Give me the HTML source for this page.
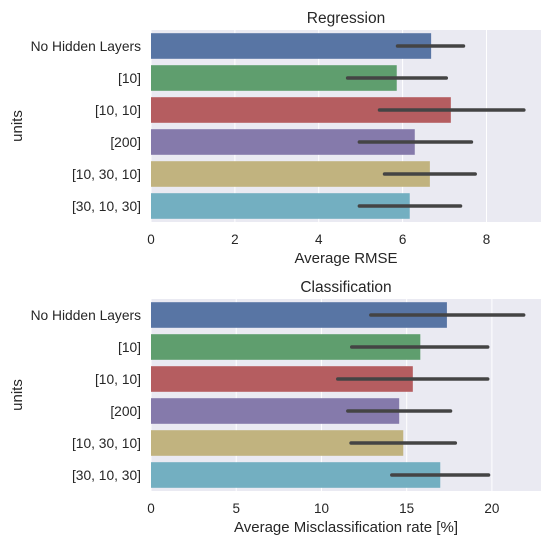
<!DOCTYPE html>
<html><head><meta charset="utf-8"><style>
body{margin:0;background:#fff;font-family:"Liberation Sans",sans-serif}
svg text{font-family:"Liberation Sans",sans-serif;fill:#262626}
</style></head><body>
<svg id="c" width="550" height="543"></svg>
<script>
const categories=["No Hidden Layers","[10]","[10, 10]","[200]","[10, 30, 10]","[30, 10, 30]"];
const regValues=[6.68,5.86,7.15,6.29,6.65,6.17];
const regLow=[5.88,4.69,5.45,4.97,5.57,4.97];
const regHigh=[7.45,7.04,8.89,7.64,7.73,7.38];
const regTicks=[0,2,4,6,8];
const clsValues=[17.36,15.8,15.36,14.56,14.8,16.97];
const clsLow=[12.9,11.78,10.96,11.55,11.74,14.13];
const clsHigh=[21.86,19.75,19.75,17.57,17.85,19.8];
const clsTicks=[0,5,10,15,20];
const colors=["#5875a4","#5f9e6e","#b55d60","#857aab","#c1b37f","#73afc1"];
const NS="http://www.w3.org/2000/svg";
const svg=document.getElementById('c');
function mk(tag,attrs,parent){const e=document.createElementNS(NS,tag);for(const k in attrs)e.setAttribute(k,attrs[k]);(parent||svg).appendChild(e);return e;}
function panel(name,top,title,xlabel,vals,lo,hi,ticks,xmax){
  const L=151,R=541,H=192;
  const g=mk('g',{});
  
  
  const x=v=>L+(v/xmax)*(R-L);
  const band=H/categories.length;
  const y=i=>top+i*band;
  const bg=mk('rect',{x:L,y:top,width:R-L,height:H,fill:'#eaeaf2'},g);
  
  
  ticks.forEach(t=>{
    const gl=mk('line',{x1:x(t),x2:x(t),y1:top,y2:top+H,stroke:'#fff','stroke-width':1},g);
    
    
    const tl=mk('text',{x:x(t),y:top+H+22,'text-anchor':'middle','font-size':13.5},g);
    tl.textContent=t;
    
    
  });
  categories.forEach((c,i)=>{
    const b=mk('rect',{x:L,y:y(i)+band*0.1,width:x(vals[i])-L,height:band*0.8,fill:colors[i]},g);
    
    
    const e=mk('line',{x1:x(lo[i]),x2:x(hi[i]),y1:y(i)+band/2,y2:y(i)+band/2,stroke:'#444','stroke-width':3.6,'stroke-linecap':'round'},g);
    
    
    const t=mk('text',{x:141,y:y(i)+band/2+5,'text-anchor':'end','font-size':13.8},g);
    t.textContent=c;
    
    
  });
  const tt=mk('text',{x:(L+R)/2,y:top-7,'text-anchor':'middle','font-size':15.5},g);
  tt.textContent=title;
  
  
  const xl=mk('text',{x:(L+R)/2,y:top+H+41,'text-anchor':'middle','font-size':15},g);
  xl.textContent=xlabel;
  
  
  const yl=mk('text',{x:0,y:0,'text-anchor':'middle','font-size':15,transform:`translate(22,${top+H/2}) rotate(-90)`},g);
  yl.textContent='units';
  
  
}
panel('regression',30,'Regression','Average RMSE',regValues,regLow,regHigh,regTicks,9.3);
panel('classification',299,'Classification','Average Misclassification rate [%]',clsValues,clsLow,clsHigh,clsTicks,22.88);
</script>
</body></html>
